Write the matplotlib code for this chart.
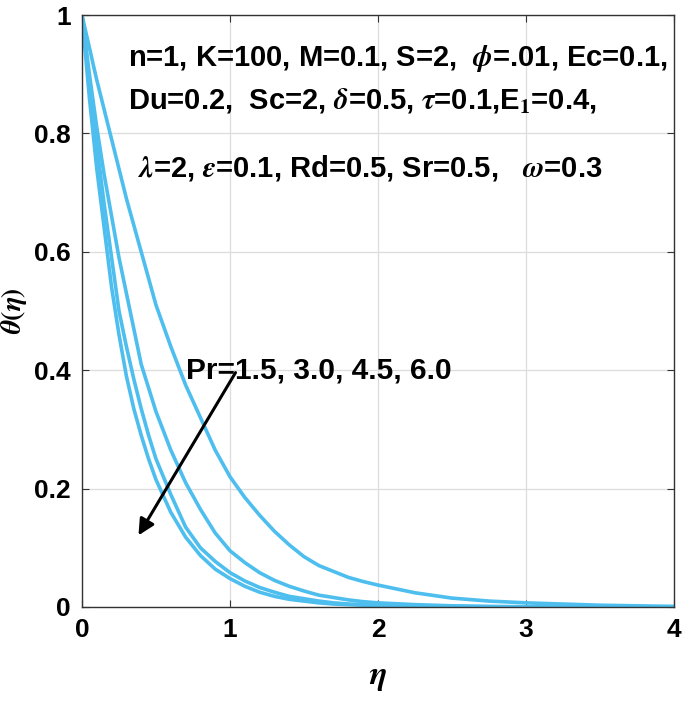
import matplotlib
matplotlib.use("Agg")
import matplotlib.pyplot as plt

plt.rcParams['font.family'] = ['Liberation Sans', 'DejaVu Sans']
plt.rcParams['font.weight'] = 'bold'
plt.rcParams['mathtext.fontset'] = 'stix'

eta = [0, 0.025, 0.05, 0.075, 0.1, 0.15, 0.2, 0.25, 0.3, 0.35, 0.4, 0.45, 0.5,
       0.6, 0.7, 0.8, 0.9, 1.0, 1.1, 1.2, 1.3, 1.4, 1.5, 1.6, 1.7, 1.8, 1.9,
       2.0, 2.25, 2.5, 2.75, 3.0, 3.5, 4.0]
theta_pr15 = [1, 0.972, 0.945, 0.917, 0.89, 0.84, 0.79, 0.74, 0.69, 0.645, 0.60,
              0.555, 0.51, 0.44, 0.375, 0.32, 0.265, 0.22, 0.185, 0.155, 0.128,
              0.105, 0.085, 0.07, 0.06, 0.05, 0.043, 0.037, 0.024, 0.015, 0.01,
              0.007, 0.003, 0.001]
theta_pr30 = [1, 0.95, 0.90, 0.855, 0.81, 0.73, 0.66, 0.59, 0.53, 0.47, 0.41,
              0.37, 0.33, 0.265, 0.21, 0.165, 0.125, 0.095, 0.075, 0.058, 0.045,
              0.035, 0.027, 0.02, 0.016, 0.012, 0.009, 0.007, 0.004, 0.002, 0.001,
              0.0005, 0, 0]
theta_pr45 = [1, 0.94, 0.88, 0.83, 0.78, 0.68, 0.59, 0.50, 0.44, 0.385, 0.335,
              0.29, 0.25, 0.19, 0.135, 0.10, 0.077, 0.058, 0.044, 0.033, 0.025,
              0.018, 0.014, 0.010, 0.007, 0.005, 0.004, 0.003, 0.002, 0.001,
              0.0005, 0, 0, 0]
theta_pr60 = [1, 0.93, 0.86, 0.80, 0.74, 0.64, 0.54, 0.46, 0.39, 0.335, 0.29,
              0.25, 0.215, 0.16, 0.118, 0.087, 0.064, 0.048, 0.035, 0.025, 0.018,
              0.013, 0.01, 0.007, 0.005, 0.004, 0.003, 0.002, 0.001, 0.0005, 0,
              0, 0, 0]
series = [theta_pr15, theta_pr30, theta_pr45, theta_pr60]

xticks = [0, 1, 2, 3, 4]
yticks = [0, 0.2, 0.4, 0.6, 0.8, 1.0]
yticklabels = ['0', '0.2', '0.4', '0.6', '0.8', '1']

fig = plt.figure(figsize=(6.85, 7.18), dpi=100)
ax = fig.add_axes([0.1197, 0.1546, 0.8643, 0.8245])

for th in series:
    ax.plot(eta, th, color='#4DBEEE', lw=2.6, solid_capstyle='round')

ax.set_xlim(0, 4)
ax.set_ylim(0, 1)
ax.set_xticks(xticks)
ax.set_yticks(yticks)
ax.set_yticklabels(yticklabels)
ax.grid(True, color='#dcdcdc', lw=0.9)
ax.set_axisbelow(True)
ax.tick_params(direction='in', top=True, right=True, length=5,
               color='#333333', pad=8, labelsize=19)
for lab in ax.get_xticklabels() + ax.get_yticklabels():
    lab.set_fontweight('bold')
for s in ax.spines.values():
    s.set_color('#333333')
    s.set_linewidth(1.0)

ax.set_xlabel(r'$\eta$', fontsize=24, labelpad=14)
ax.set_ylabel(r'$\theta(\eta)$', fontsize=20, labelpad=4)

kw = dict(fontsize=21, fontweight='bold', va='center', ha='left')
ax.text(0.31, 0.927, r'n=1, K=100, M=0.1, S=2,  $\phi$=.01, Ec=0.1,', **kw)
ax.text(0.31, 0.856, r'Du=0.2,  Sc=2, $\delta$=0.5, $\tau$=0.1,E$_{\mathbf{1}}$=0.4,', **kw)
ax.text(0.38, 0.742, r'$\lambda$=2, $\epsilon$=0.1, Rd=0.5, Sr=0.5,   $\omega$=0.3', **kw)
ax.text(0.70, 0.40, 'Pr=1.5, 3.0, 4.5, 6.0', **dict(kw, fontsize=21.5))

ax.annotate('', xy=(0.372, 0.117), xytext=(1.047, 0.40),
            arrowprops=dict(arrowstyle='-|>', color='black', lw=2.2,
                            mutation_scale=24))

fig.savefig('out.png', dpi=100)
